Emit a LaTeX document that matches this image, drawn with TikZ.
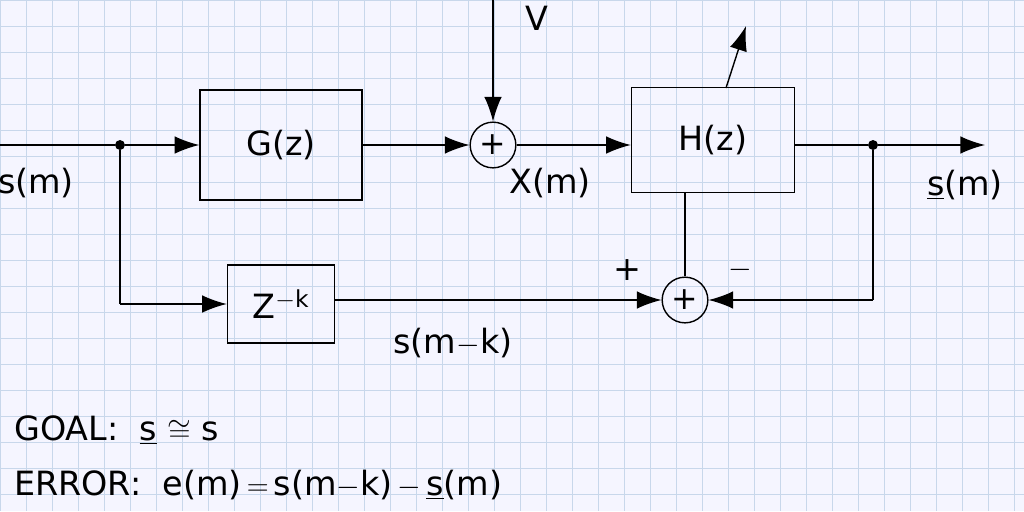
\documentclass[tikz,border=0pt]{standalone}
\usepackage{fontspec}
\setmainfont{DejaVu Sans}
\usetikzlibrary{arrows.meta,positioning}
\definecolor{gridblue}{RGB}{200,215,235}
\tikzset{
  block/.style={draw,thick,inner sep=0pt},
  summer/.style={draw,thick,circle,minimum size=26pt,inner sep=0pt,font=\fontsize{18}{18}\selectfont},
  dot/.style={circle,fill,inner sep=2pt},
  sig/.style={thick,-{Latex[length=14pt,width=10pt]}},
  wire/.style={thick},
  lbl/.style={font=\fontsize{19}{22}\selectfont}
}
\begin{document}
\begin{tikzpicture}[x=0.02cm,y=-0.02cm]
	\useasboundingbox (0,0) rectangle (1024,511);
	\fill[white!96!blue] (0,0) rectangle (1024,511);
	\foreach \i in {0,26,...,1024} \draw[gridblue] (\i,0) -- (\i,511);
	\foreach \j in {0,26,...,511} \draw[gridblue] (0,\j) -- (1024,\j);
	% blocks
	\node[block,minimum width=162*0.02cm,minimum height=110*0.02cm,lbl] (G) at (281,145) {G(z)};
	\node[block,minimum width=163*0.02cm,minimum height=105*0.02cm,lbl] (H) at (713,140) {H(z)};
	\node[block,minimum width=107*0.02cm,minimum height=78*0.02cm,lbl] (D) at (281,304) {Z$^{-\mathrm{k}}$};
	\node[summer] (s1) at (493,145) {+};
	\node[summer] (s2) at (685,300) {+};
	% points
	\coordinate (in) at (0,145);
	\node[dot] (j1) at (120,145) {};
	\node[dot] (j2) at (873,145) {};
	\coordinate (out) at (985,145);
	\coordinate (v) at (493,0);
	\coordinate (c1) at (120,304);
	\coordinate (c2) at (873,300);
	\coordinate (a1) at (726,88);
	\coordinate (a2) at (746,26);
	% connectors
	\draw[wire] (in) -- (j1);
	\draw[sig] (j1) -- (G);
	\draw[sig] (G) -- (s1);
	\draw[sig] (v) -- (s1);
	\draw[sig] (s1) -- (H.west |- s1);
	\draw[wire] (H.east |- j2) -- (j2);
	\draw[sig] (j2) -- (out);
	\draw[wire] (j1) -- (c1);
	\draw[sig] (c1) -- (D);
	\draw[sig] (D.east |- s2) -- (s2);
	\draw[wire] (j2) -- (c2);
	\draw[sig] (c2) -- (s2);
	\draw[wire] (H.south -| s2) -- (s2);
	\draw[sig] (a1) -- (a2);
	% labels
	\node[lbl] (lV) at (537,18) {V};
	\node[lbl] (ls) at (36,183) {s(m)};
	\node[lbl] (lx) at (550,183) {X(m)};
	\node[lbl] (lo) at (965,185) {\underline{s}(m)};
	\node[lbl] (lk) at (453,343) {s(m$-$k)};
	\node[lbl] (lp) at (627,270) {+};
	\node[lbl] (lm) at (740,270) {$-$};
	\node[lbl,anchor=west] (goal) at (8,430) {GOAL:\ \ \underline{s}\ $\cong$\ s};
	\node[lbl,anchor=west] (err) at (8,485) {ERROR:\ \ e(m)$\,=\,$s(m$-$k)$\,-\,$\underline{s}(m)};
\end{tikzpicture}
\end{document}
